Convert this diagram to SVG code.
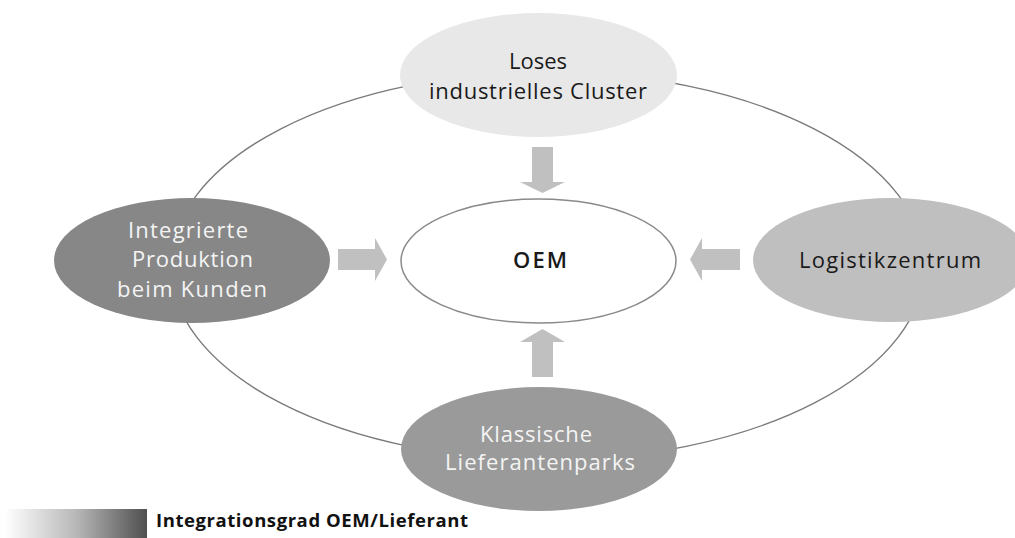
<svg xmlns="http://www.w3.org/2000/svg" width="1015" height="538" viewBox="0 0 1015 538">
  <defs>
    <linearGradient id="scale" x1="0" y1="0" x2="1" y2="0">
      <stop offset="0" stop-color="#ffffff"/>
      <stop offset="0.5" stop-color="#b8b8b8"/>
      <stop offset="1" stop-color="#4f4f4f"/>
    </linearGradient>
  </defs>
  <style>
    .lbl { font-family: "Open Sans", "Noto Sans", "Liberation Sans", sans-serif; font-size: 22px; text-anchor: middle; }
    .dark { fill: #1a1a1a; }
    .light { fill: #f4f4f4; }
    .arrow { fill: #c0c0c0; stroke: none; }
    .ring { fill: none; stroke: #7a7a7a; stroke-width: 1.4; }
  </style>
  <rect width="1015" height="538" fill="#ffffff"/>

  <!-- outer ring linking the four location types -->
  <g id="connectors">
    <ellipse class="ring" cx="547.5" cy="266" rx="377" ry="194"/>
  </g>

  <g id="node-cluster">
    <ellipse cx="538.5" cy="75" rx="138.5" ry="62" fill="#e8e8e8"/>
    <text class="lbl dark" x="538" y="69">Loses</text>
    <text class="lbl dark" x="538" y="99" textLength="218">industrielles Cluster</text>
  </g>

  <g id="node-integriert">
    <ellipse cx="192" cy="260.5" rx="138" ry="62.5" fill="#878787"/>
    <text class="lbl light" x="188" y="238" textLength="120">Integrierte</text>
    <text class="lbl light" x="192.5" y="267" textLength="121">Produktion</text>
    <text class="lbl light" x="192" y="297" textLength="150">beim Kunden</text>
  </g>

  <g id="node-logistik">
    <ellipse cx="891" cy="260" rx="138" ry="62" fill="#bfbfbf"/>
    <text class="lbl dark" x="890" y="268" textLength="182">Logistikzentrum</text>
  </g>

  <g id="node-lieferantenparks">
    <ellipse cx="539" cy="449" rx="138" ry="62" fill="#9a9a9a"/>
    <text class="lbl light" x="536" y="442" textLength="112">Klassische</text>
    <text class="lbl light" x="540" y="470" textLength="190">Lieferantenparks</text>
  </g>

  <g id="node-oem">
    <ellipse cx="538.5" cy="261" rx="137.5" ry="62" fill="#ffffff" stroke="#8a8a8a" stroke-width="1.5"/>
    <text class="lbl dark" x="540" y="268" font-size="21" font-weight="600" textLength="54">OEM</text>
  </g>

  <!-- block arrows pointing at the OEM -->
  <g id="arrows">
    <polygon class="arrow" points="532,147 553,147 553,182 565,182 542.5,193 520,182 532,182"/>
    <polygon class="arrow" points="532,377 553,377 553,342 565,342 542.5,329 520,342 532,342"/>
    <polygon class="arrow" points="338,249 375,249 375,238 387,259.5 375,281 375,270 338,270"/>
    <polygon class="arrow" points="740,249 702,249 702,238 690,259.5 702,281 702,270 740,270"/>
  </g>

  <!-- legend -->
  <g id="legend">
    <rect x="5" y="509" width="142" height="29" fill="url(#scale)"/>
    <text x="156" y="527" font-family="'Open Sans', 'Noto Sans', 'Liberation Sans', sans-serif" font-size="18.5" font-weight="700" fill="#111111" textLength="312">Integrationsgrad OEM/Lieferant</text>
  </g>
</svg>
